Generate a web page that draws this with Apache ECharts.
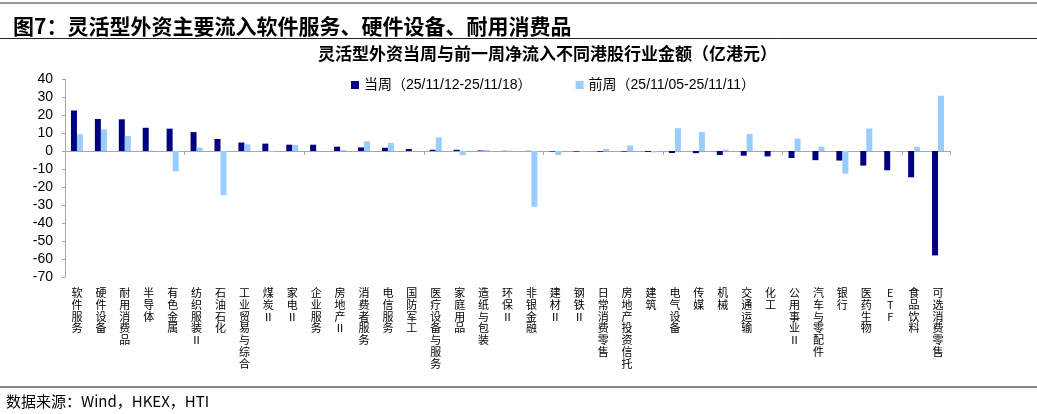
<!DOCTYPE html>
<html>
<head>
<meta charset="utf-8">
<script src="https://cdn.jsdelivr.net/npm/echarts@6/dist/echarts.min.js"></script>
<style>
html,body{margin:0;padding:0;background:#fff;}
#c{width:1037px;height:414px;}
</style>
</head>
<body>
<div id="c"></div>
<script>
const categories = ['软件服务','硬件设备','耐用消费品','半导体','有色金属','纺织服装Ⅱ','石油石化','工业贸易与综合','煤炭Ⅱ','家电Ⅱ','企业服务','房地产Ⅱ','消费者服务','电信服务','国防军工','医疗设备与服务','家庭用品','造纸与包装','环保Ⅱ','非银金融','建材Ⅱ','钢铁Ⅱ','日常消费零售','房地产投资信托','建筑','电气设备','传媒','机械','交通运输','化工','公用事业Ⅱ','汽车与零配件','银行','医药生物','ETF','食品饮料','可选消费零售'];
const currentWeek = [22.5,17.8,17.6,12.9,12.4,10.5,6.7,4.7,4.1,3.5,3.5,2.4,2.0,1.8,1.1,0.7,0.7,0.3,0.1,0.1,-0.3,-0.3,-0.4,-0.3,-0.5,-1.1,-1.2,-2.2,-2.6,-3.0,-3.9,-5.1,-5.3,-8.1,-10.7,-14.6,-58.0];
const previousWeek = [9.3,12.0,8.4,0.2,-11.3,1.9,-24.5,3.7,-0.5,3.4,0.1,0.5,5.4,4.5,0.1,7.6,-2.4,0.5,0.1,-31.0,-2.2,-0.2,1.2,3.0,-0.8,12.7,10.5,0.7,9.5,0.1,6.9,2.4,-12.6,12.5,-0.5,2.4,30.7];
const seriesNames = ['当周（25/11/12-25/11/18）','前周（25/11/05-25/11/11）'];
const yTicks = {min:-70, max:40, interval:10};
const mainTitle = '图7：灵活型外资主要流入软件服务、硬件设备、耐用消费品';
const subTitle = '灵活型外资当周与前一周净流入不同港股行业金额（亿港元）';
const sourceText = '数据来源：Wind，HKEX，HTI';

const chart = echarts.init(document.getElementById('c'));
const cjk = '"Noto Sans CJK SC", sans-serif';
const latin = '"Liberation Sans", "Noto Sans CJK SC", sans-serif';
chart.setOption({
  backgroundColor:'#fff',
  animation:false,
  title:[
    {text:mainTitle,left:8,top:11,textStyle:{fontFamily:cjk,fontSize:21,fontWeight:'bold',color:'#000'}},
    {text:subTitle,top:45,textStyle:{fontFamily:cjk,fontSize:17,fontWeight:'bold',color:'#000'},padding:0,left:318},
    {text:sourceText,left:6,top:394,padding:0,textStyle:{fontFamily:cjk,fontSize:15,fontWeight:'normal',color:'#000'}}
  ],
  graphic:[
    {type:'line',shape:{x1:0,y1:3,x2:1037,y2:3},style:{stroke:'#999',lineWidth:2}},
    {type:'line',shape:{x1:0,y1:38.5,x2:1037,y2:38.5},style:{stroke:'#222',lineWidth:1}},
    {type:'line',shape:{x1:0,y1:387,x2:1037,y2:387},style:{stroke:'#888',lineWidth:2}}
  ],
  legend:{
    left:346,top:73,itemWidth:8,itemHeight:8,itemGap:44,icon:'rect',
    textStyle:{fontFamily:latin,fontSize:14,color:'#000'},
    data:seriesNames
  },
  grid:{left:65,right:87,top:79,bottom:137,containLabel:false},
  xAxis:[
    {type:'category',data:categories,position:'bottom',
     axisLine:{show:false,onZero:false},axisTick:{show:false},
     axisLabel:{interval:0,margin:10,fontFamily:cjk,fontSize:11,lineHeight:11.8,color:'#000',verticalAlign:'top',
       formatter:v=>v.split('').join('\n')}},
    {type:'category',data:categories,position:'top',
     axisLine:{show:true,onZero:true,lineStyle:{color:'#A6A6A6',width:1}},
     axisTick:{show:true,inside:true,length:4,lineStyle:{color:'#A6A6A6'}},
     axisLabel:{show:false}}
  ],
  yAxis:{type:'value',min:yTicks.min,max:yTicks.max,interval:yTicks.interval,
    axisLine:{show:true,lineStyle:{color:'#A6A6A6'}},
    axisTick:{show:true,length:3,lineStyle:{color:'#A6A6A6'}},
    splitLine:{show:false},
    axisLabel:{margin:12,fontFamily:latin,fontSize:14,color:'#000'}},
  series:[
    {name:seriesNames[0],type:'bar',data:currentWeek,barWidth:6,barGap:'0%',itemStyle:{color:'#000080'}},
    {name:seriesNames[1],type:'bar',data:previousWeek,barWidth:6,barGap:'0%',itemStyle:{color:'#99CCFF'}}
  ]
});
</script>
</body>
</html>
